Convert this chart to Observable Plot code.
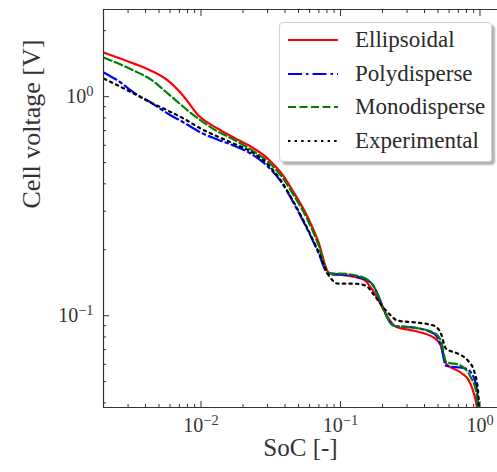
<!DOCTYPE html>
<html>
<head>
<meta charset="utf-8">
<script src="https://cdn.jsdelivr.net/npm/d3@7"></script>
<script src="https://cdn.jsdelivr.net/npm/@observablehq/plot@0.6"></script>
<style>
  html, body { margin: 0; padding: 0; background: #fff; }
  #wrap { position: relative; width: 497px; height: 472px; overflow: hidden; }
  #wrap > svg { position: absolute; left: 0; top: 0; }
  #legend {
    position: absolute; left: 279px; top: 22px; width: 213px; height: 140px;
    box-sizing: border-box; border: 1px solid #d0d0d0; border-radius: 4px;
    background: rgba(255,255,255,0.92);
    box-shadow: 3px 3px 2px rgba(0,0,0,0.3);
    font-family: "Liberation Serif", serif; font-size: 23px; color: #2a2a2a;
  }
  .row { position: absolute; left: 8px; height: 30px; display: flex; align-items: center; white-space: nowrap; }
  .row svg { display: block; margin-right: 17px; }
</style>
</head>
<body>
<div id="wrap"><div id="legend"></div></div>
<script>
// ---- data ----
const seriesNames = ["Ellipsoidal", "Polydisperse", "Monodisperse", "Experimental"];
const seriesColors = ["#ff0000", "#0000ff", "#008000", "#000000"];
const seriesDash = [null, "14,4,2.5,4", "8,3.5", "2.4,4.2"];

const ellX = [0.00202,0.00331,0.00438,0.0058,0.00755,0.00952,0.01323,0.01724,0.02283,0.03022,0.03746,0.04642,0.05848,0.06898,0.08272,0.1008,0.1474,0.1654,0.2499,0.3364,0.4681,0.5254,0.5705,0.731,0.834,0.9057,0.9517,0.9675];
const ellY = [1.588,1.415,1.314,1.183,1.0,0.825,0.714,0.650,0.591,0.521,0.4497,0.3643,0.2802,0.2201,0.1571,0.1539,0.146,0.1342,0.0891,0.0854,0.0793,0.0729,0.0604,0.0549,0.0505,0.0440,0.0380,0.0349];

const polyX = [0.00202,0.00254,0.00331,0.00438,0.0058,0.00755,0.01,0.01323,0.01724,0.02283,0.03022,0.03746,0.04642,0.05848,0.06898,0.08272,0.1008,0.1474,0.1654,0.2417,0.3364,0.4681,0.5254,0.5705,0.7937,0.8909,0.9517,0.9675,0.9836];
const polyY = [1.287,1.183,1.043,0.939,0.836,0.761,0.685,0.6363,0.597,0.549,0.4789,0.409,0.3246,0.2444,0.196,0.1539,0.1539,0.1475,0.1415,0.0900,0.0882,0.0828,0.0729,0.0591,0.0573,0.0532,0.0454,0.0388,0.0349];

const monoX = [0.00202,0.00331,0.00438,0.0058,0.00807,0.01,0.01323,0.01724,0.02283,0.03022,0.03746,0.04642,0.05848,0.06898,0.08272,0.1008,0.1474,0.1654,0.2417,0.3364,0.4681,0.5254,0.5705,0.731,0.8619,0.9361,0.9675,0.9836];
const monoY = [1.507,1.314,1.196,1.032,0.863,0.777,0.692,0.6363,0.5728,0.5048,0.436,0.3531,0.2716,0.2132,0.1555,0.1555,0.1491,0.1415,0.0900,0.0882,0.0836,0.0769,0.0617,0.0591,0.0521,0.0454,0.0380,0.0349];

const expX = [0.00202,0.00331,0.00438,0.0058,0.00755,0.01,0.01323,0.01724,0.02283,0.03022,0.03746,0.04642,0.05848,0.06898,0.08272,0.0960,0.1250,0.1523,0.171,0.219,0.2584,0.3594,0.4681,0.5254,0.5705,0.6956,0.8203,0.9057,0.9675,0.9836,1.0];
const expY = [1.208,1.032,0.939,0.863,0.793,0.714,0.6567,0.610,0.561,0.489,0.4134,0.328,0.247,0.198,0.1523,0.1400,0.1400,0.1371,0.1260,0.1032,0.0949,0.0929,0.0900,0.0828,0.0707,0.0671,0.0623,0.0561,0.0454,0.0396,0.0358];

const xDomain = [0.002, 1.335];
const yDomain = [0.0381, 2.5];
const xMajor = [0.01, 0.1, 1];
const xMinor = [0.002,0.003,0.004,0.005,0.006,0.007,0.008,0.009,0.02,0.03,0.04,0.05,0.06,0.07,0.08,0.09,0.2,0.3,0.4,0.5,0.6,0.7,0.8,0.9];
const yMajor = [0.1, 1];
const yMinor = [0.04,0.05,0.06,0.07,0.08,0.09,0.2,0.3,0.4,0.5,0.6,0.7,0.8,0.9,2];
const xLabel = "SoC [-]";
const yLabel = "Cell voltage [V]";

// ---- chart ----
const seriesX = [ellX, polyX, monoX, expX];
const seriesY = [ellY, polyY, monoY, expY];
const fmt = d => "10^" + Math.round(Math.log10(d));
const blank = () => "";
const ink = "#333";

const lineMarks = seriesX.map((xs, i) => Plot.line(xs, {
  x: xs, y: seriesY[i], stroke: seriesColors[i], strokeWidth: 2.2,
  strokeDasharray: seriesDash[i] || undefined, curve: "monotone-x", clip: true
}));

const chart = Plot.plot({
  width: 497, height: 472,
  marginLeft: 103, marginRight: 0, marginTop: 9, marginBottom: 65,
  style: {fontFamily: "Liberation Serif, serif", fontSize: "20px", color: ink, background: "transparent"},
  x: {type: "log", domain: xDomain},
  y: {type: "log", domain: yDomain},
  marks: [
    ...lineMarks,
    Plot.ruleY([yDomain[1]], {stroke: ink, strokeWidth: 1.2}),
    Plot.ruleY([yDomain[0]], {stroke: ink, strokeWidth: 1.2}),
    Plot.ruleX([xDomain[0]], {stroke: ink, strokeWidth: 1.2}),
    Plot.axisX({anchor: "bottom", ticks: xMajor, tickSize: -6, tickPadding: 16, tickFormat: fmt, label: null, stroke: ink, fontSize: 20}),
    Plot.axisX({anchor: "bottom", ticks: xMinor, tickSize: -3, tickFormat: blank, label: null, stroke: ink}),
    Plot.axisX({anchor: "top", ticks: xMajor, tickSize: -6, tickFormat: blank, label: null, stroke: ink}),
    Plot.axisX({anchor: "top", ticks: xMinor, tickSize: -3, tickFormat: blank, label: null, stroke: ink}),
    Plot.axisY({anchor: "left", ticks: yMajor, tickSize: -6, tickPadding: 16, tickFormat: fmt, label: null, stroke: ink, fontSize: 20}),
    Plot.axisY({anchor: "left", ticks: yMinor, tickSize: -3, tickFormat: blank, label: null, stroke: ink}),
    Plot.text([xLabel], {frameAnchor: "bottom", dy: 48, fontSize: 25, fill: ink}),
    Plot.text([yLabel], {frameAnchor: "left", dx: -72, rotate: -90, fontSize: 26, fill: ink})
  ]
});

// superscript exponents on tick labels
d3.select(chart).selectAll("text").each(function () {
  const t = this.textContent;
  const m = /^10\^(-?\d+)$/.exec(t);
  if (m) {
    const e = m[1].replace("-", "\u2212");
    this.textContent = "10";
    const ts = document.createElementNS("http://www.w3.org/2000/svg", "tspan");
    ts.setAttribute("dy", "-0.5em");
    ts.setAttribute("font-size", "0.72em");
    ts.textContent = e;
    this.appendChild(ts);
  }
});

const wrap = document.getElementById("wrap");
wrap.insertBefore(chart, wrap.firstChild);

// legend
const legend = document.getElementById("legend");
seriesNames.forEach((name, i) => {
  const row = document.createElement("div");
  row.className = "row";
  row.style.top = (2 + i * 33.7) + "px";
  const s = d3.create("svg").attr("width", 50).attr("height", 10);
  s.append("line").attr("x1", 0).attr("x2", 50).attr("y1", 5).attr("y2", 5)
    .attr("stroke", seriesColors[i]).attr("stroke-width", 2.2)
    .attr("stroke-dasharray", seriesDash[i]);
  row.appendChild(s.node());
  const span = document.createElement("span");
  span.textContent = name;
  row.appendChild(span);
  legend.appendChild(row);
});
</script>
</body>
</html>
